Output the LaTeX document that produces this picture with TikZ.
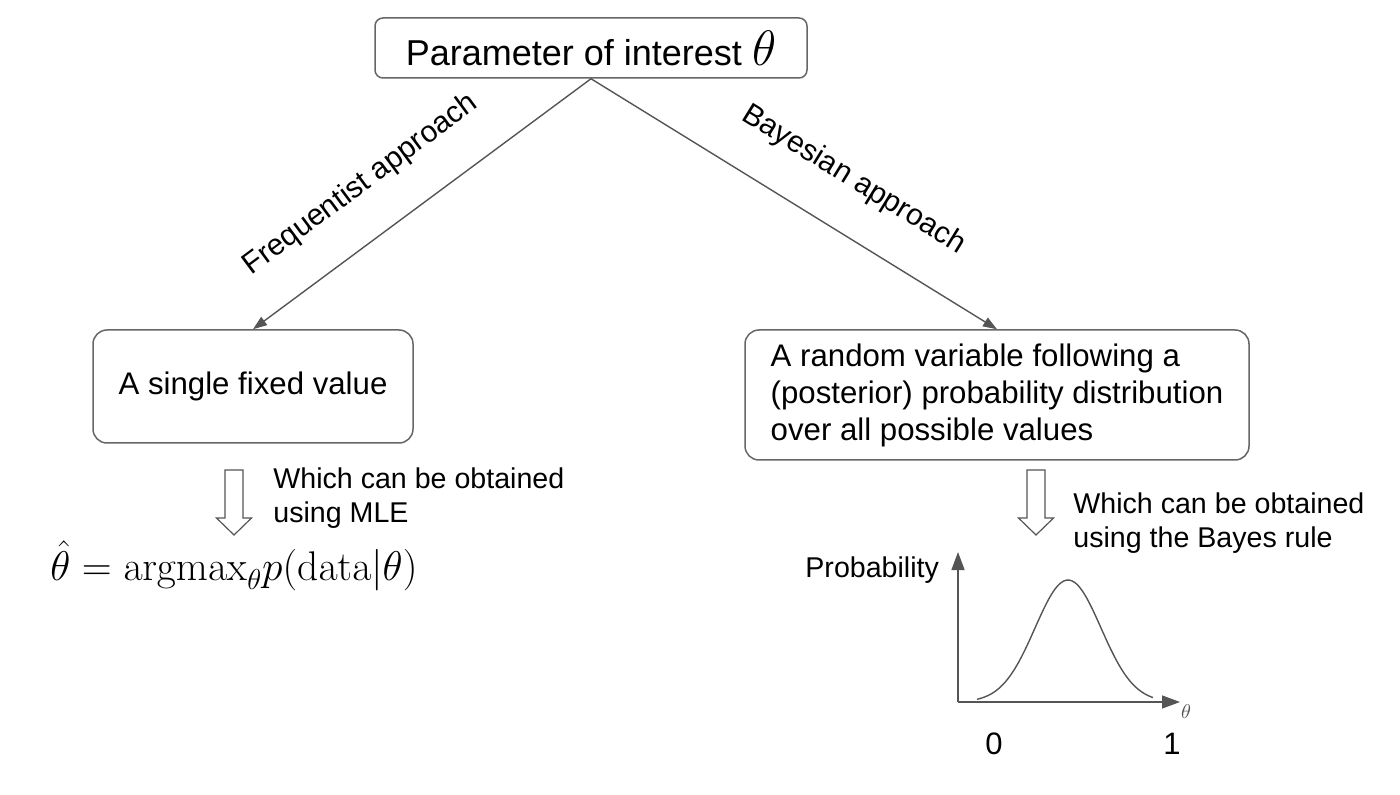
\documentclass[tikz,border=0pt]{standalone}
\usepackage{amsmath,amssymb}
\usepackage[no-math]{fontspec}
\setmainfont{Liberation Sans}
\usepackage{xcolor}
\usetikzlibrary{arrows.meta,positioning,calc}

\definecolor{linegray}{HTML}{555555}
\definecolor{boxgray}{HTML}{666666}

\tikzset{
	hollowdown/.pic={
		\draw[draw=linegray, line width=0.6pt, fill=white]
		(-9,0) -- (-9,48) -- (-17.5,48) -- (0,65) -- (17.5,48) -- (9,48) -- (9,0) -- cycle;
	}
}

\begin{document}
\begin{tikzpicture}[
	x=0.5pt, y=-0.5pt,
	box/.style={draw=boxgray, line width=0.75pt, rounded corners=7pt, align=center, inner sep=0pt},
	arrow/.style={-{Triangle[length=7pt,width=5pt]}, draw=linegray, line width=0.7pt},
	lbl/.style={font=\fontsize{15}{18}\selectfont, sloped, above=18.5pt, inner sep=0pt},
	note/.style={font=\fontsize{14.3}{17}\selectfont, align=left, inner sep=0pt, anchor=north west},
	axis/.style={-{Triangle[length=9pt,width=6.5pt]}, draw=linegray, line width=0.7pt}
	]
	
	\useasboundingbox (0,0) rectangle (1400,795);
	
	\node[box, rounded corners=4pt, minimum width=216pt, minimum height=30pt,
	font=\fontsize{18}{22}\selectfont] (Param) at (591,48)
	{Parameter of interest {\fontsize{25}{25}\selectfont$\theta$}};
	
	\node[box, minimum width=160pt, minimum height=56.5pt,
	font=\fontsize{15.6}{18.5}\selectfont] (Single) at (253,386.5) {A single fixed value};
	
	\node[box, align=left, minimum width=252pt, minimum height=65pt,
	font=\fontsize{15.6}{18.5}\selectfont] (Random) at (997,395)
	{A random variable following a\\ (posterior) probability distribution\\ over all possible values};
	
	\draw[arrow] (Param.south) -- node[lbl, pos=0.59] {Frequentist approach} (Single.north);
	\draw[arrow] (Param.south) -- node[lbl, pos=0.58] {Bayesian approach} (Random.north);
	
	% left branch
	\pic at (234,470) {hollowdown};
	\node[note] (MLEnote) at (273,467) {Which can be obtained\\using MLE};
	\node[anchor=base west, inner sep=0pt, font=\fontsize{20}{24}\selectfont] (MLE) at (50,580)
	{$\hat{\theta} = \mathrm{argmax}_{\theta} p(\mathrm{data}|\theta)$};
	
	% right branch
	\pic at (1036,470) {hollowdown};
	\node[note] (Bayesnote) at (1073,492) {Which can be obtained\\using the Bayes rule};
	
	% posterior sketch
	\coordinate (O) at (958,702);
	\coordinate (Ytop) at (958,552);
	\coordinate (Xend) at (1180,702);
	\draw[axis] (O) -- (Ytop);
	\draw[axis] (O) -- (Xend);
	\draw[draw=linegray, line width=0.7pt] plot[domain=977:1153, samples=60, smooth]
	(\x, {702 - 122*exp(-((\x-1068)/33)^2/2)});
	
	\node[anchor=base west, inner sep=0pt, font=\fontsize{14.3}{17}\selectfont] (Prob) at (805,577) {Probability};
	\node[inner sep=0pt, text=linegray, font=\fontsize{10}{12}\selectfont] (Theta) at (1186,712) {$\theta$};
	\node[inner sep=0pt, font=\fontsize{15.5}{18}\selectfont] (Zero) at (994,744) {0};
	\node[inner sep=0pt, font=\fontsize{15.5}{18}\selectfont] (One) at (1172,744) {1};
	
\end{tikzpicture}
\end{document}
